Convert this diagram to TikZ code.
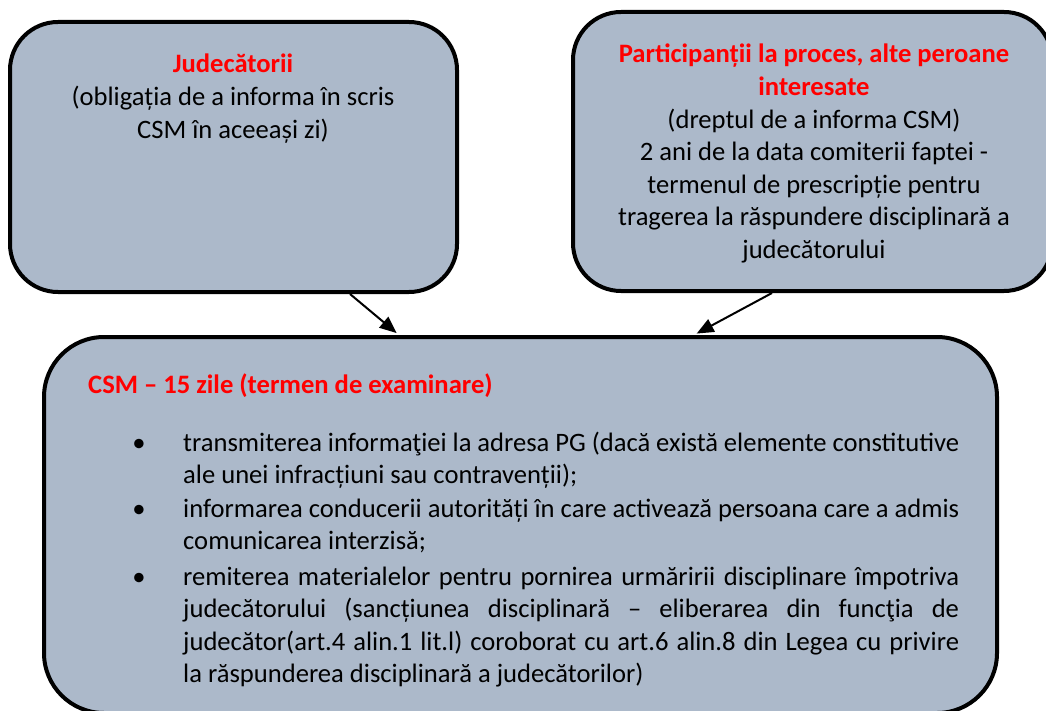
\documentclass[tikz,border=0pt]{standalone}
\usepackage{fontspec}
\setmainfont{Carlito}
\usetikzlibrary{arrows.meta}
\definecolor{boxfill}{HTML}{ACB9CA}
\definecolor{titlered}{HTML}{FF0000}
\hyphenpenalty=10000
\exhyphenpenalty=10000
\tolerance=9999
\emergencystretch=20pt
\tikzset{
  roundbox/.style={draw=black, line width=4pt, fill=boxfill, rounded corners=#1, inner sep=0pt},
  bodytext/.style={font=\fontsize{26.6}{32.6}\selectfont, inner sep=0pt, anchor=base},
  redtitle/.style={font=\bfseries\fontsize{26.6}{32.6}\selectfont, text=titlered, inner sep=0pt, anchor=base west},
  conn/.style={line width=2pt, -{Triangle[length=17pt,width=14pt]}, shorten >=3pt},
}
\begin{document}
\begin{tikzpicture}[x=1pt,y=-1pt]
\useasboundingbox (0,0) rectangle (1046,711);
\clip (0,0) rectangle (1046,711);
% boxes
\node[roundbox=48pt, minimum width=447pt, minimum height=270pt] (lbox) at (233.5,157) {};
\node[roundbox=48pt, minimum width=479pt, minimum height=279pt] (rbox) at (812.5,151.5) {};
\node[roundbox=60pt, minimum width=953pt, minimum height=376pt] (bbox) at (520.5,525) {};
% connectors
\coordinate (ls) at ([xshift=116.5pt]lbox.south);
\coordinate (le) at ([xshift=-121.5pt]bbox.north);
\coordinate (rs) at ([xshift=-40.5pt]rbox.south);
\coordinate (re) at ([xshift=173.5pt]bbox.north);
\draw[conn] (ls) -- (le);
\draw[conn] (rs) -- (re);
% top-left text
\node[bodytext, text width=440pt, align=flush center] (ltext) at (233,73)
  {{\color{titlered}\bfseries Judecătorii}\\(obligația de a informa în scris\\CSM în aceeași zi)};
% top-right text
\node[bodytext, text width=470pt, align=flush center] (rtext) at (814,63)
  {{\color{titlered}\bfseries Participanții la proces, alte peroane\\interesate}\\(dreptul de a informa CSM)\\2 ani de la data comiterii faptei -\\termenul de prescripție pentru\\tragerea la răspundere disciplinară a\\judecătorului};
% bottom text
\node[redtitle] (btitle) at (88,393) {CSM – 15 zile (termen de examinare)};
\node[bodytext] (b1) at (139,451) {\textbullet};
\node[bodytext] (b2) at (139,517) {\textbullet};
\node[bodytext] (b3) at (139,585) {\textbullet};
\node[bodytext, anchor=base west, text width=776pt, align=justify] (i1) at (183,451)
  {transmiterea informaţiei la adresa PG (dacă există elemente constitutive\linebreak ale unei infracțiuni sau contravenții);};
\node[bodytext, anchor=base west, text width=776pt, align=justify] (i2) at (183,517)
  {informarea conducerii autorități în care activează persoana care a admis\linebreak comunicarea interzisă;};
\node[bodytext, anchor=base west, text width=776pt, align=justify] (i3) at (183,585)
  {remiterea materialelor pentru pornirea urmăririi disciplinare împotriva\linebreak judecătorului (sancțiunea disciplinară – eliberarea din funcţia de\linebreak judecător(art.4 alin.1 lit.l) coroborat cu art.6 alin.8 din Legea cu privire\linebreak la răspunderea disciplinară a judecătorilor)};
\end{tikzpicture}
\end{document}
